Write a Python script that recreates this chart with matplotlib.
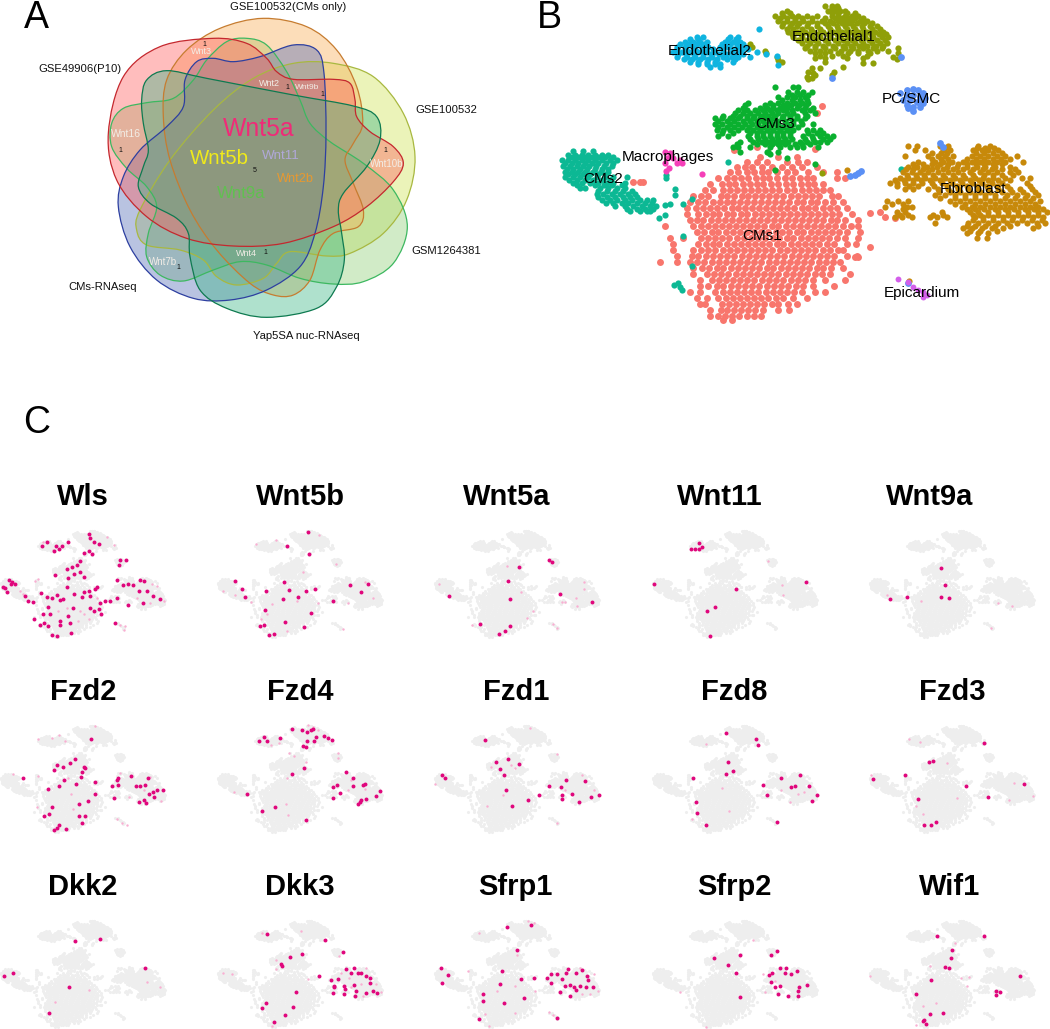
import numpy as np
import matplotlib
matplotlib.use('Agg')
import matplotlib.pyplot as plt
from matplotlib.path import Path
from matplotlib.patches import PathPatch

plt.rcParams['font.family'] = ['Liberation Sans', 'DejaVu Sans']

W, H = 1050, 1029

# ---- panel A, outlines of the six sets
red_set = [(325,400),(370,230),(480,140),(640,115),(740,130),(800,175),(830,215),(880,238),(1000,238),(1050,250),(1065,300),(1070,350),(1110,395),(1180,440),(1210,490),(1180,545),(1100,620),(1000,680),(850,730),(700,738),(560,715),(440,650),(350,540)]
orange_set = [(490,350),(500,240),(560,150),(660,85),(790,55),(920,80),(1010,150),(1070,260),(1088,370),(1060,430),(1035,480),(1060,550),(1090,630),(1075,680),(1000,700),(960,750),(930,840),(880,885),(820,885),(750,850),(650,750),(570,630),(510,480)]
yellow_set = [(1245,470),(1220,600),(1150,700),(1050,760),(980,768),(870,755),(830,790),(790,835),(710,855),(650,830),(610,780),(540,750),(440,735),(410,690),(420,630),(510,480),(640,330),(760,235),(880,190),(1000,190),(1120,230),(1210,340)]
green_set = [(1222,680),(1180,790),(1090,845),(1000,852),(900,835),(800,795),(720,785),(640,810),(550,843),(480,825),(440,770),(445,700),(470,620),(440,560),(380,505),(335,440),(335,370),(370,325),(440,308),(520,295),(580,240),(620,180),(680,125),(740,115),(800,135),(860,215),(900,300),(930,370),(990,425),(1090,490),(1180,570)]
blue_set = [(355,620),(370,530),(420,450),(500,380),(550,320),(555,240),(590,185),(640,175),(700,185),(780,170),(880,135),(950,150),(972,220),(978,400),(970,560),(945,700),(900,800),(800,870),(690,900),(580,895),(470,840),(390,740)]
teal_set = [(425,300),(440,240),(500,212),(620,235),(880,285),(1060,318),(1130,350),(1140,420),(1100,500),(1030,580),(1015,630),(1025,700),(1033,780),(1010,860),(950,925),(800,952),(680,925),(600,870),(570,770),(565,700),(530,655),(450,610),(415,560),(430,500),(445,450),(430,370)]
set_fills = {'red': '#FF5C5C', 'orange': '#F8AC50', 'yellow': '#CDE150', 'green': '#8ECD75', 'blue': '#5069B4', 'teal': '#37B482'}
set_edges = {'red': '#C4282E', 'orange': '#C67C30', 'yellow': '#A8B840', 'green': '#3DB860', 'blue': '#2D3FA0', 'teal': '#0E7A50'}
draw_order = ['yellow', 'green', 'orange', 'blue', 'red', 'teal']

set_names = ['GSE100532(CMs only)', 'GSE49906(P10)', 'GSE100532', 'GSM1264381', 'CMs-RNAseq', 'Yap5SA nuc-RNAseq']
set_name_xy = [(863,22), (240,207), (1340,330), (1338,752), (307,860), (920,1007)]

big_genes = ['Wnt5a', 'Wnt5b', 'Wnt11', 'Wnt2b', 'Wnt9a']
big_gene_xy = [(775,388), (658,477), (843,467), (886,537), (725,580)]
big_gene_size = [17.8, 14.7, 9.6, 9.2, 12.2]
big_gene_col = ['#F02A78', '#F0EA1A', '#B0A8D8', '#E89830', '#60C050']

small_genes = ['Wnt3', 'Wnt16', 'Wnt2', 'Wnt9b', 'Wnt10b', 'Wnt4', 'Wnt7b']
small_gene_xy = [(604,155), (378,402), (808,250), (921,262), (1160,492), (740,760), (490,787)]
small_gene_size = [6.5, 7.5, 6.5, 6, 7, 6.5, 7]

count_labels = ['1', '1', '1', '1', '1', '1', '1', '5']
count_xy = [(612,133), (360,452), (862,262), (966,282), (1155,452), (797,757), (534,802), (765,513)]

# ---- panel B, tsne points as rows of (y, [x, ...])
cms1_rows = [
 (470,[690,745,800]),
 (485,[650,682,712,770,805,830]),
 (500,[620,645,667,695,725,755,785,815,860]),
 (517,[600,625,650,672,695,715,740,770,795,835,880,920]),
 (535,[565,590,612,633,655,677,698,718,742,765,787,810,830,850,920,945]),
 (553,[540,575,597,616,638,660,681,700,722,744,768,790,812,833,853,878]),
 (571,[525,548,580,600,621,641,664,684,706,726,747,770,793,815,836,858,880,900]),
 (589,[490,512,535,572,592,612,635,655,676,697,717,738,760,782,803,825,846,868,905,925]),
 (607,[480,505,525,550,570,590,610,630,652,672,692,715,735,757,778,800,820,842,862,885,908,940]),
 (625,[470,498,520,541,562,583,605,625,646,667,688,708,730,750,772,793,815,835,856,878,900,920,950]),
 (643,[472,505,527,548,568,590,610,632,652,674,695,717,737,758,780,800,822,843,865,885,907,928,965]),
 (661,[480,500,520,542,563,585,605,627,648,668,690,710,732,753,775,795,817,838,858,880,902,922,945,985]),
 (679,[490,512,533,555,575,597,618,640,660,682,703,725,745,767,788,810,830,852,873,895,915,938,962,985]),
 (697,[500,523,545,565,587,608,630,652,672,693,715,737,757,778,800,820,842,863,885,905,928,950,990]),
 (715,[420,460,512,533,555,577,598,620,642,663,685,706,728,748,770,790,812,833,855,877,898,920,945,985]),
 (733,[428,505,527,548,568,590,612,633,654,675,697,718,740,760,782,803,825,846,868,890,912,950,978]),
 (751,[430,490,512,535,556,578,600,620,642,663,685,706,727,750,770,792,813,835,856,878,900,925,940]),
 (769,[440,485,505,528,550,570,592,613,635,656,678,698,720,742,763,785,806,828,850,870,892,912,950,982]),
 (787,[390,440,480,500,522,545,566,588,608,630,651,672,694,716,737,758,780,802,823,844,866,888,910,930]),
 (805,[490,515,537,560,580,602,623,645,667,688,710,730,752,773,795,815,838,860,880,903,940]),
 (823,[490,530,552,574,595,617,638,660,681,702,724,745,767,790,810,832,855,875,900,960]),
 (841,[510,545,567,588,610,630,652,673,695,717,738,760,782,803,825,848,885,945]),
 (859,[510,535,560,580,602,624,645,667,688,710,732,753,775,797,818,850,912]),
 (877,[480,510,556,578,600,621,642,664,685,707,728,750,772,793,815,855,885]),
 (895,[500,530,565,587,608,630,650,672,693,715,737,758,790,830]),
 (913,[510,525,575,597,618,640,660,682,703,725,745,775,800]),
 (931,[540,572,590,612,633,655,676,698,745,778]),
 (949,[540,563,585,607,628,650,672,692]),
 (961,[580,605]),
]
cms1_extra = [(405,677),(1020,638),(1050,635),(1065,650),(1095,655),(310,545),(330,547),(340,547),(1020,742),(975,770),(985,770),(877,318),(860,340),(612,450),(680,442),(855,447)]

cms2_rows = [
 (452,[130,160,190]),
 (465,[115,135,155,175,195,215,235]),
 (472,[125,145,165,185,205,225,250]),
 (480,[95,115,135,155,175,195,215,240,262]),
 (488,[105,125,145,165,185,205,228,250]),
 (497,[100,120,140,158,178,198,222,245]),
 (506,[110,130,150,170,195,215,235]),
 (515,[105,125,145,165,190,212,235]),
 (523,[115,135,160,180,205,228]),
 (532,[105,130,150,175,200,225,250,290]),
 (540,[118,140,165,190,215,240]),
 (548,[130,155,180,205,230,250,285]),
 (556,[140,195,222,245,275]),
 (565,[150,165,210,235,262,285]),
 (574,[205,230,255,280,305]),
 (583,[200,220,245,270,295,315]),
 (592,[205,230,255,278,300,320]),
 (600,[215,240,262,285,305,330,350,370]),
 (609,[228,250,275,295,320,345,365]),
 (618,[255,285,310,335,360,378]),
 (626,[290,320,345,368]),
 (634,[300,330,350,360]),
]
cms2_extra = [(405,615),(420,612),(405,645),(388,655),(435,568),(435,585),(460,612),(485,597),(458,707),(487,798),(433,855),(450,860),(445,850),(455,870),(595,485),(1112,507),(408,525),(408,535)]

cms3_rows = [
 (262,[735,790,805]),
 (277,[775,800,820,845]),
 (285,[785,810,835]),
 (292,[745,770,795,825]),
 (300,[755,785,810,832]),
 (308,[655,720,745,770,795,815,835]),
 (315,[645,705,730,758,782,808,828]),
 (323,[640,690,710,730,750,770,800,825,850]),
 (331,[625,650,675,700,720,740,760,785,815,840]),
 (340,[615,640,660,685,705,725,745,770,790,825,855]),
 (347,[580,610,630,650,672,695,715,735,760,780,800,830]),
 (355,[555,575,600,625,650,670,690,710,730,755,780,800,825]),
 (363,[565,590,612,638,660,680,700,720,740,765,790,812]),
 (372,[555,575,600,625,645,665,685,705,725,745,770,790,815,850]),
 (381,[565,590,612,635,658,680,700,720,740,760,780,805]),
 (390,[560,580,600,625,650,670,690,710,730,750,770,790,830,850,870]),
 (398,[575,610,660,680,700,720,740,760,780,835,860,880]),
 (407,[565,595,655,680,700,720,740,760,780,820,845,870,890,910]),
 (416,[660,685,705,725,745,765,785,825,850,880,900]),
 (425,[630,670,695,715,735,755,775,810,830,855,870,890]),
 (432,[620,680,705,725,745,765,795,815,840]),
 (440,[610,625,660,720,750,780,800,820,865]),
 (455,[630,715,745]),
]
cms3_extra = [(710,455),(720,462),(770,475),(735,510),(855,493)]

endo1_rows = [
 (18,[885,905,920]),
 (25,[905,925]),
 (33,[770,895,915,930,945]),
 (40,[755,780,905,925,950,975]),
 (48,[735,760,785,805,830,860,905,925,945,965,985]),
 (55,[750,772,795,815,845,885,915,935,955,975,1000]),
 (63,[745,770,795,820,845,875,900,925,945,965,990,1010]),
 (70,[760,785,808,835,860,885,910,935,958,980,1002,1025]),
 (78,[755,780,800,830,860,895,920,945,970,995,1020,1040]),
 (87,[770,790,815,842,870,900,925,950,975,1000,1025,1050]),
 (95,[775,800,825,850,880,910,935,960,985,1010,1035,1060]),
 (103,[785,812,838,865,895,922,948,972,998,1022,1048,1068]),
 (112,[790,815,845,870,900,930,955,980,1005,1030,1055,1075]),
 (121,[805,830,855,885,915,940,965,992,1018,1042,1065]),
 (130,[815,840,865,895,925,950,975,1000,1025,1050,1070]),
 (137,[830,855,880,910,938,962,988,1012,1038,1060]),
 (145,[825,855,885,915,945,970,1000,1030,1055]),
 (152,[840,870,900,932,960,985,1015,1040]),
 (160,[855,885,925,955,985,1020]),
 (168,[870,905,940,1010]),
 (175,[855,885,950,1000]),
 (190,[1000,1030]),
]
endo1_extra = [(1075,153),(1105,145),(1105,160),(1100,178),(1090,170),(940,200),(885,185),(870,203),(912,215),(905,225),(845,205),(835,215),(850,218),(830,230),(845,235),(855,225),(835,238),(755,185),(740,170),(745,180),(705,152),(707,160),(660,133),(665,140),(875,518)]

endo2_rows = [
 (110,[500,520,600,625]),
 (117,[480,505,595,618]),
 (125,[465,490,510,530,585,610,630]),
 (132,[450,478,500,522,575,600,622,640]),
 (140,[440,465,490,515,535,570,595,620,645]),
 (148,[440,468,495,520,548,580,608,635,655]),
 (155,[430,455,480,505,530,555,580,605,630,680]),
 (162,[445,468,492,518,542,568,592,618,640]),
 (170,[440,470,495,520,545,580,605,625,660]),
 (178,[462,485,510,535,560,590,615]),
 (185,[480,505,530,555,610]),
 (192,[505,530,555,570]),
 (200,[540,570]),
]
endo2_extra = [(688,88),(708,163),(745,195),(742,168)]

fibro_rows = [
 (437,[1135,1160,1230,1255,1345,1380]),
 (444,[1245,1342,1365,1392]),
 (450,[1155,1185,1240,1260,1330,1355,1375,1405]),
 (458,[1205,1232,1252,1338,1362,1388,1415]),
 (467,[1125,1195,1225,1245,1270,1325,1350,1375,1400,1425,1460]),
 (476,[1205,1232,1255,1312,1338,1362,1388,1412,1440]),
 (485,[1165,1215,1240,1265,1300,1325,1350,1375,1400,1425,1478]),
 (492,[1150,1178,1205,1230,1255,1285,1312,1338,1362,1388,1415]),
 (500,[1135,1160,1190,1220,1250,1280,1310,1340,1365,1395,1440]),
 (508,[1128,1150,1178,1205,1238,1268,1298,1330,1358,1385,1415,1455]),
 (517,[1120,1145,1170,1195,1225,1255,1285,1320,1350,1375,1400,1440,1465]),
 (525,[1132,1158,1182,1208,1240,1270,1298,1328,1362,1388,1415,1450]),
 (533,[1110,1135,1160,1185,1215,1245,1275,1305,1335,1360,1390,1425,1475,1500]),
 (541,[1095,1122,1148,1172,1200,1230,1260,1290,1320,1348,1375,1405,1440]),
 (550,[1080,1100,1125,1150,1175,1205,1235,1265,1295,1325,1355,1385,1415,1490]),
 (558,[1102,1138,1165,1212,1250,1280,1310,1340,1370,1400,1430,1500]),
 (567,[1125,1150,1195,1225,1255,1285,1315,1345,1375,1405,1440,1470,1505]),
 (576,[1228,1260,1290,1320,1350,1380,1415,1445,1478,1515]),
 (585,[1215,1245,1275,1305,1335,1365,1395,1430,1460,1490,1525]),
 (594,[1230,1275,1305,1335,1365,1395,1425,1455,1485,1510]),
 (602,[1070,1105,1135,1260,1290,1320,1350,1380,1410,1440,1470,1500,1530]),
 (611,[1085,1118,1275,1305,1335,1365,1395,1425,1455,1485,1515]),
 (620,[1065,1130,1145,1295,1325,1350,1380,1410,1440,1470,1500,1525]),
 (628,[1118,1310,1335,1362,1395,1425,1452,1485,1512,1540]),
 (637,[1100,1125,1235,1320,1345,1375,1405,1435,1465,1495,1525,1550]),
 (645,[1110,1135,1208,1240,1330,1350,1375,1405,1435,1465,1495,1525]),
 (652,[1095,1115,1145,1200,1220,1250,1335,1360,1390,1420,1450,1480,1510,1540]),
 (660,[1330,1360,1390,1418,1445,1475,1505,1535]),
 (668,[1215,1315,1345,1375,1405,1430,1460,1490,1520,1545]),
 (677,[1310,1335,1365,1395,1440,1525]),
 (685,[1300,1325,1355,1385,1420,1510]),
 (692,[1320,1350,1400]),
 (700,[1310,1345,1375]),
 (713,[1340,1370]),
]
fibro_extra = [(950,510),(1137,842)]

macro_pts = [(405,455),(420,460),(410,475),(430,475),(450,480),(405,490),(418,505),(408,512),(515,523),(440,490),(455,490)]
pcsmc_pts = [(1130,270),(1150,268),(1165,270),(1180,280),(1110,280),(1130,285),(1150,285),(1170,290),(1185,295),(1120,300),(1140,300),(1160,305),(1180,310),(1130,315),(1150,320),(1170,320),(1150,332),(1135,325),(960,527),(975,525),(985,518),(993,512),(1113,170),(905,235),(1230,430),(1238,442),(1135,850)]
epi_pts = [(1105,837),(1135,845),(1150,860),(1165,870),(1180,875),(1190,885),(1180,890)]

cluster_names = ['Endothelial1', 'Endothelial2', 'PC/SMC', 'CMs3', 'Macrophages', 'CMs2', 'Fibroblast', 'CMs1', 'Epicardium']
cluster_name_xy = [(912,112), (538,152), (1143,298), (735,373), (413,470), (218,537), (1330,567), (697,708), (1175,880)]

# ---- panel C, expressing cells
wls_hi = [(265,193),(270,205),(280,215),(295,220),(205,215),(140,215),(125,228),(168,228),(178,235),(187,228),(163,242),(250,248),(265,243),(275,252),(360,270),(357,283),(378,270),(240,272),(232,283),(217,290),(200,295),(165,313),(240,305),(222,310),(205,322),(250,318),(28,327),(45,340),(15,352),(8,350),(32,340),(122,368),(140,378),(155,382),(180,388),(190,385),(172,372),(200,350),(222,370),(245,378),(270,375),(290,348),(283,355),(265,362),(250,365),(350,328),(367,342),(382,340),(398,342),(420,328),(432,332),(417,360),(440,360),(457,375),(480,385),(427,395),(382,402),(350,380),(330,390),(315,390),(300,395),(295,415),(280,420),(302,430),(270,410),(220,410),(205,435),(180,450),(150,430),(145,408),(130,430),(103,443),(132,455),(120,462),(145,465),(155,490),(170,495),(180,460),(210,455),(213,485),(345,457),(98,392),(75,375),(85,390),(22,365),(35,335)]
wls_lo = [(115,325),(160,240),(130,215),(320,200),(340,225),(265,445),(250,430),(235,450),(290,380),(375,465),(360,462),(370,475),(410,380),(450,395),(470,345),(455,340),(490,390),(60,360),(70,370),(105,330),(240,420),(200,410),(175,420)]
wnt5b_hi = [(920,185),(860,228),(925,252),(705,332),(850,335),(797,360),(865,357),(915,360),(942,354),(848,384),(995,390),(1048,343),(892,378),(793,418),(930,425),(778,463),(790,462),(853,453),(908,468),(805,492),(820,487),(725,355),(733,378),(1080,363),(1100,340)]
wnt5b_lo = [(825,210),(765,220),(955,195),(705,372),(668,360),(750,392),(905,305),(1005,282),(1090,335),(1115,380),(1040,395),(780,445),(800,430),(815,400),(860,480),(1025,472),(890,390),(950,395)]
wnt5a_hi = [(320,117),(327,124),(246,138),(218,182),(345,222),(148,311),(222,318),(210,332),(196,340),(72,227),(425,244),(222,237)]
wnt5a_lo = [(215,135),(47,190),(405,185),(405,205),(250,215),(385,233),(350,245),(358,245),(387,258),(280,272),(265,292),(128,313),(330,312),(338,323)]
wnt11_hi = [(692,66),(698,80),(672,84),(681,85),(690,86),(955,184),(710,271),(730,260),(718,346),(580,191),(783,206)]
wnt11_lo = [(862,122),(898,225),(897,195)]
wnt9a_hi = [(1291,141),(1300,194),(1309,233),(1291,231),(1207,231),(1165,236)]
wnt9a_lo = [(1157,224),(1240,243),(1430,247),(1465,258),(1413,324)]
fzd2_hi = [(272,208),(170,286),(188,292),(163,300),(210,280),(225,268),(250,290),(255,295),(245,305),(242,320),(192,328),(68,323),(178,346),(228,342),(283,335),(283,372),(145,356),(350,330),(352,325),(335,347),(352,345),(393,319),(443,325),(407,348),(420,348),(435,345),(340,382),(445,372),(458,365),(470,358),(488,358),(415,395),(430,390),(437,398),(460,380),(238,402),(262,393),(155,410),(148,430),(133,438),(253,436),(245,458),(178,464),(170,472),(163,480),(198,476),(237,437)]
fzd2_lo = [(285,167),(155,203),(115,208),(178,195),(195,212),(40,313),(115,318),(205,325),(212,372),(220,415),(380,465),(365,458),(350,445),(385,380),(430,360),(450,320),(483,392),(360,310),(112,410)]
fzd4_hi = [(790,200),(775,212),(800,212),(838,205),(875,178),(902,180),(918,187),(930,180),(935,178),(945,200),(940,212),(918,212),(905,228),(915,230),(970,198),(982,205),(993,210),(1035,307),(995,350),(1008,343),(1057,348),(1055,325),(1085,345),(1090,342),(1135,363),(1125,377),(1080,388),(1075,395),(1070,402),(1018,368),(997,382),(738,370),(822,410),(916,450),(910,295),(875,313),(1095,385),(784,422)]
fzd4_lo = [(922,165),(935,170),(950,180),(835,220),(812,225),(880,258),(865,250),(1010,250),(1010,265),(915,275),(855,400),(862,435),(700,365),(1040,360),(1090,355),(1050,330),(860,325)]
fzd1_hi = [(160,210),(218,268),(188,277),(246,284),(198,298),(208,316),(55,316),(63,324),(362,330),(407,334),(319,350),(349,352),(214,361),(294,376),(375,372),(352,376),(350,389),(424,382),(442,375),(266,391),(394,397),(228,411)]
fzd1_lo = [(272,175),(338,253),(175,293),(225,285),(235,295),(38,343),(400,315),(358,362),(430,360),(205,377),(165,410),(340,462)]
fzd8_hi = [(759,190),(832,208),(838,224),(762,278),(776,305),(758,314),(940,315),(677,326),(848,346),(918,353),(929,350),(858,377),(684,398),(685,431),(708,467),(969,393),(982,375),(963,350),(883,459),(893,325)]
fzd8_lo = [(708,222),(748,356),(893,362),(935,372),(950,368),(915,398),(675,450),(765,425)]
fzd3_hi = [(1397,218),(1259,276),(1270,275),(1202,316),(1122,329),(1352,350),(1494,344),(1406,381),(1232,388),(1247,467),(1265,466),(1277,459)]
fzd3_lo = [(1212,208),(1238,215),(1118,315),(1305,280),(1470,340),(1518,378),(1457,390),(1245,435),(1330,385),(1228,410)]
dkk2_hi = [(224,243),(298,238),(435,327),(12,350),(38,340),(206,384),(148,462)]
dkk2_lo = [(440,367),(480,382),(265,392),(165,430)]
dkk3_hi = [(800,223),(972,240),(1026,276),(904,282),(867,292),(840,315),(845,320),(954,351),(990,362),(886,400),(797,432),(878,444),(852,468),(820,490),(783,447),(1035,328),(1050,340),(1060,326),(1070,340),(1078,342),(1095,350),(1105,355),(1030,380),(1033,390),(1030,405),(1000,385),(995,402),(1060,378),(1065,395),(1062,412),(1095,402),(1105,370),(1115,395),(1128,402),(1000,380),(1012,360)]
dkk3_lo = [(785,218),(900,212),(1015,288),(825,300),(825,328),(695,345),(668,340),(1020,340),(1045,355),(1080,375),(1125,375),(1140,398),(1085,410),(1050,385),(920,358),(815,503),(1095,327)]
sfrp1_hi = [(275,195),(215,202),(240,272),(53,327),(70,348),(55,371),(204,336),(197,373),(250,358),(283,356),(157,406),(156,426),(209,433),(258,418),(325,345),(315,355),(340,345),(350,360),(365,330),(385,340),(400,333),(412,350),(415,362),(325,370),(370,378),(380,382),(395,380),(410,382),(427,385),(358,380),(385,392),(372,410),(345,398),(340,478),(145,481),(360,340)]
sfrp1_lo = [(267,183),(283,190),(145,218),(120,335),(235,380),(190,395),(240,285),(320,460),(330,470),(235,462),(160,465),(170,503),(400,405),(420,405),(440,395),(430,345),(395,325),(285,395)]
sfrp2_hi = [(883,275),(868,285),(792,285),(728,294),(763,317),(783,342),(890,325),(905,325),(872,340),(865,347),(903,340),(918,345),(932,335),(878,385),(890,381),(887,405),(935,395),(938,382),(958,378),(870,368),(910,410),(935,410),(792,415)]
sfrp2_lo = [(880,365),(850,345),(825,240),(645,398),(708,505),(855,400)]
wif1_hi = [(1280,229),(1397,230),(1316,272),(1315,295),(1299,322),(1310,327),(1265,363),(1484,351),(1435,400),(1425,397),(1425,407),(1227,404),(1248,484),(1245,486),(1253,497),(1262,465),(1295,463)]
wif1_lo = [(1262,320),(1340,355),(1358,352),(1115,350),(1245,440),(1278,433),(1355,380),(1325,250),(1228,500)]

gene_titles = [['Wls', 'Wnt5b', 'Wnt5a', 'Wnt11', 'Wnt9a'],
               ['Fzd2', 'Fzd4', 'Fzd1', 'Fzd8', 'Fzd3'],
               ['Dkk2', 'Dkk3', 'Sfrp1', 'Sfrp2', 'Wif1']]
gene_hi = [[wls_hi, wnt5b_hi, wnt5a_hi, wnt11_hi, wnt9a_hi],
           [fzd2_hi, fzd4_hi, fzd1_hi, fzd8_hi, fzd3_hi],
           [dkk2_hi, dkk3_hi, sfrp1_hi, sfrp2_hi, wif1_hi]]
gene_lo = [[wls_lo, wnt5b_lo, wnt5a_lo, wnt11_lo, wnt9a_lo],
           [fzd2_lo, fzd4_lo, fzd1_lo, fzd8_lo, fzd3_lo],
           [dkk2_lo, dkk3_lo, sfrp1_lo, sfrp2_lo, wif1_lo]]
title_centers = [[83, 300, 507, 720, 930],
                 [83, 300, 516, 734, 952],
                 [83, 300, 515, 734, 950]]
title_tops = [497, 692, 887]


def px_axes(fig, left, top, width, height):
    ax = fig.add_axes([left / W, 1 - (top + height) / H, width / W, height / H])
    ax.axis('off')
    return ax


def closed_curve(pts):
    # catmull-rom through the read points, as bezier segments
    p = np.array(pts, dtype=float)
    n = len(p)
    verts = [p[0]]
    codes = [Path.MOVETO]
    for i in range(n):
        p0, p1, p2, p3 = p[i - 1], p[i], p[(i + 1) % n], p[(i + 2) % n]
        verts += [p1 + (p2 - p0) / 6., p2 - (p3 - p1) / 6., p2]
        codes += [Path.CURVE4] * 3
    return Path(verts, codes)


def from_rows(rows, extra=()):
    pts = [(x, y) for y, xs in rows for x in xs] + list(extra)
    return np.array(pts, dtype=float)


fig = plt.figure(figsize=(W / 100., H / 100.), dpi=100)

# panel A
ax_a = px_axes(fig, 0, 0, 500, 360)
ax_a.set_xlim(0, 1500)
ax_a.set_ylim(1080, 0)
venn_sets = {'red': red_set, 'orange': orange_set, 'yellow': yellow_set,
             'green': green_set, 'blue': blue_set, 'teal': teal_set}
for key in draw_order:
    ax_a.add_patch(PathPatch(closed_curve(venn_sets[key]), fc=set_fills[key], ec='none', alpha=0.4))
for key in draw_order:
    ax_a.add_patch(PathPatch(closed_curve(venn_sets[key]), fc='none', ec=set_edges[key], lw=0.9))
for name, (x, y) in zip(set_names, set_name_xy):
    ax_a.text(x, y, name, fontsize=8.1, ha='center', va='center', color='#111111')
for name, (x, y), sz, c in zip(big_genes, big_gene_xy, big_gene_size, big_gene_col):
    ax_a.text(x, y, name, fontsize=sz, ha='center', va='center', color=c)
for name, (x, y), sz in zip(small_genes, small_gene_xy, small_gene_size):
    ax_a.text(x, y, name, fontsize=sz, ha='center', va='center', color='#F2EDE6')
for name, (x, y) in zip(count_labels, count_xy):
    ax_a.text(x, y, name, fontsize=5, ha='center', va='center', color='#111111')

# panel B
tsne_groups = [
    (from_rows(cms1_rows, cms1_extra), '#F8766D', 25),
    (from_rows(cms2_rows, cms2_extra), '#0CB894', 20),
    (from_rows(cms3_rows, cms3_extra), '#0AB02F', 20),
    (from_rows(endo1_rows, endo1_extra), '#8F9F08', 20),
    (from_rows(endo2_rows, endo2_extra), '#0FB4E0', 20),
    (from_rows(fibro_rows, fibro_extra), '#C7890A', 20),
    (np.array(macro_pts, dtype=float), '#F53FB8', 20),
    (np.array(pcsmc_pts, dtype=float), '#5B90F5', 24),
    (np.array(epi_pts, dtype=float), '#D35FEA', 18),
]
ax_b = px_axes(fig, 530, 0, 520, 330)
ax_b.set_xlim(0, 1560)
ax_b.set_ylim(990, 0)
for pts, c, sz in tsne_groups:
    ax_b.scatter(pts[:, 0], pts[:, 1], s=sz, c=c, linewidths=0)
for name, (x, y) in zip(cluster_names, cluster_name_xy):
    ax_b.text(x, y, name, fontsize=11, ha='center', va='center', color='black')

# panel C
all_cells = np.vstack([g[0] for g in tsne_groups])
col_left = [0, 217, 434, 652, 869]
row_top = [530, 725, 920]
col_range = [(0, 497), (650, 1145), (35, 445), (575, 985), (1112, 1522)]
row_range = [[(180, 497), (180, 497), (28, 350), (28, 350), (28, 350)],
             [(165, 485), (165, 485), (165, 488), (165, 488), (165, 488)],
             [(180, 505), (180, 505), (180, 505), (180, 505), (180, 505)]]
tsne_x = (90, 1560)
tsne_y = (12, 965)
for r in range(3):
    for c in range(5):
        ax = px_axes(fig, col_left[c], row_top[r], 166, 107)
        x0, x1 = col_range[c]
        y0, y1 = row_range[r][c]
        ax.set_xlim(x0, x1)
        ax.set_ylim(y1, y0)
        bx = x0 + (all_cells[:, 0] - tsne_x[0]) / (tsne_x[1] - tsne_x[0]) * (x1 - x0)
        by = y0 + (all_cells[:, 1] - tsne_y[0]) / (tsne_y[1] - tsne_y[0]) * (y1 - y0)
        ax.scatter(bx, by, s=5, c='#EEEEEE', linewidths=0, clip_on=False)
        lo = np.array(gene_lo[r][c], dtype=float)
        hi = np.array(gene_hi[r][c], dtype=float)
        ax.scatter(lo[:, 0], lo[:, 1], s=3.0, c='#F9AFD2', linewidths=0, clip_on=False)
        ax.scatter(hi[:, 0], hi[:, 1], s=8, c='#E0067C', linewidths=0, clip_on=False)
        fig.text(title_centers[r][c] / W, 1 - title_tops[r] / H, gene_titles[r][c],
                 fontsize=21, fontweight='bold', ha='center', va='center', color='black')

# panel letters
fig.text(36 / W, 1 - 28 / H, 'A', fontsize=27, ha='center', va='baseline')
fig.text(549 / W, 1 - 28 / H, 'B', fontsize=27, ha='center', va='baseline')
fig.text(37 / W, 1 - 433 / H, 'C', fontsize=27, ha='center', va='baseline')

fig.savefig('out.png', dpi=100)
